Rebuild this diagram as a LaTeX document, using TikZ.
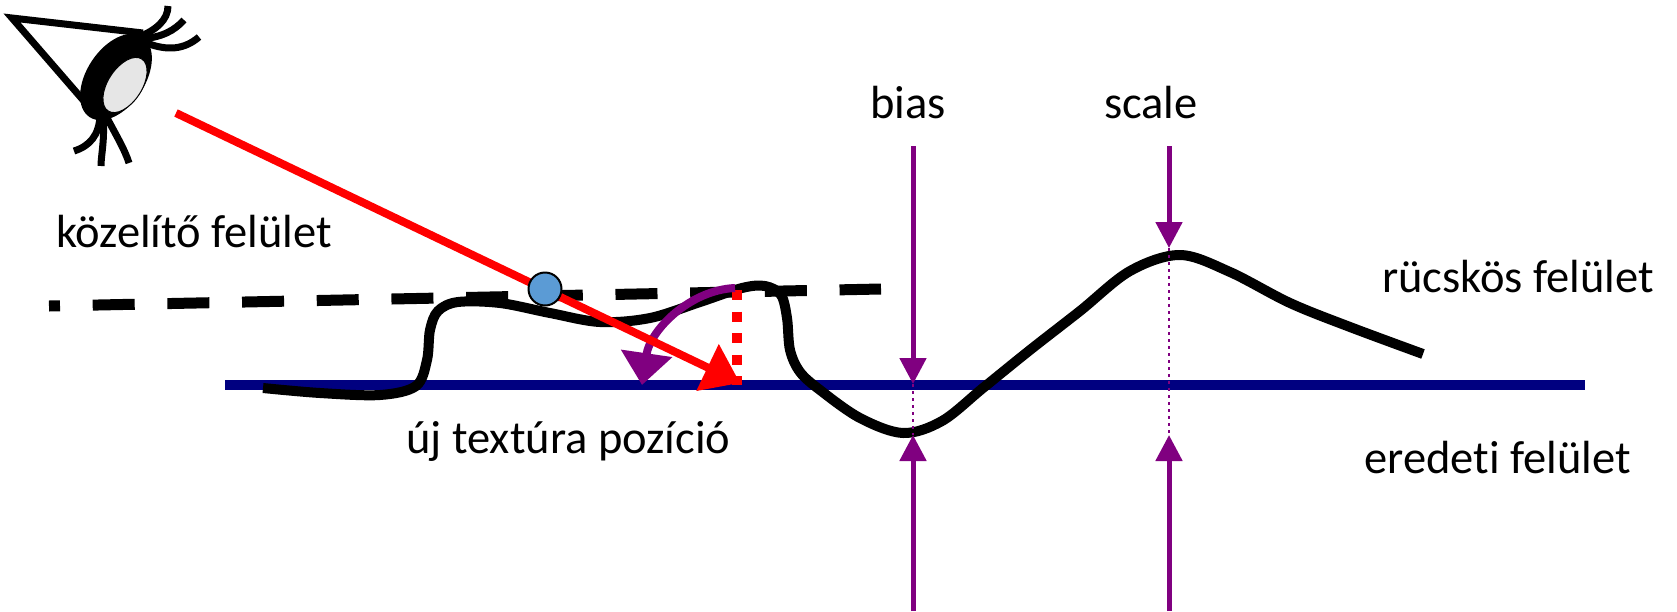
\documentclass[tikz,border=0pt]{standalone}
\usepackage{fontspec}
\setmainfont{Carlito}[Ligatures=NoCommon]
\usetikzlibrary{arrows.meta}
\definecolor{navyline}{RGB}{0,0,128}
\definecolor{violet}{RGB}{128,0,128}
\definecolor{dotblue}{RGB}{91,155,213}
\definecolor{eyegrey}{RGB}{230,230,230}
\begin{document}
\begin{tikzpicture}[x=1pt,y=-1pt,
  lbl/.style={inner sep=0pt, anchor=base west, font=\fontsize{46.5}{56}\selectfont},
  lash/.style={line width=7pt, line cap=butt},
  meas/.style={violet, line width=5pt, -{Triangle[length=26pt,width=26pt]}},
  guide/.style={violet, line width=2.5pt, dash pattern=on 2.5pt off 4.5pt}]
\useasboundingbox (0,0) rectangle (1677,611);

% viewer's eye
\draw[line width=7pt, line join=miter] (90,108) -- (12,18) -- (143,33);
\fill[shift={(116,77)}, rotate=56.5] (0,0) ellipse [x radius=48, y radius=29];
\draw[fill=eyegrey, line width=1pt, shift={(125,85)}, rotate=57] (0,0) ellipse [x radius=31, y radius=17];
\draw[lash] (139,37) .. controls (156,30) and (168,20) .. (168,6);
\draw[lash] (142,39) .. controls (162,37) and (174,31) .. (184,20);
\draw[lash] (144,42) .. controls (168,52) and (185,49) .. (199,37);
\draw[lash] (100,116) .. controls (99,135) and (90,146) .. (74,151);
\draw[lash] (103,116) .. controls (105,140) and (101,155) .. (101,166);
\draw[lash] (106,116) .. controls (116,135) and (125,150) .. (129,163);

% original (flat) surface
\coordinate (flatL) at (225,385);
\coordinate (flatR) at (1585,385);
\draw[navyline, line width=10pt] (flatL) -- (flatR);

% approximating surface
\coordinate (apL) at (49,306);
\coordinate (apR) at (881,289);
\draw[line width=11pt, dash pattern=on 42pt off 32.7pt, dash phase=31pt] (apL) -- (apR);

% bumpy surface
\draw[line width=10pt, line join=round] plot[smooth, tension=0.55] coordinates {
  (263,388) (320,393) (380,395) (416,386) (427,360) (430,330) (438,311)
  (458,302) (500,303) (550,313) (600,322) (650,318) (700,302) (742,288)
  (765,286) (781,295) (787,318) (790,350) (800,372) (820,390) (860,418)
  (903,433) (942,421) (983,388) (1030,350) (1080,311) (1130,271) (1180,255)
  (1230,272) (1290,303) (1350,327) (1423,354)};

% bias and scale markers
\coordinate (biasTop) at (913,146);
\coordinate (biasRef) at (913,384);
\coordinate (biasLow) at (913,435);
\coordinate (biasBot) at (913,611);
\coordinate (scaleTop) at (1169,146);
\coordinate (scalePeak) at (1169,248);
\coordinate (scaleLow) at (1169,435);
\coordinate (scaleBot) at (1169,611);
\draw[guide] (biasRef) -- (biasLow);
\draw[guide] (scalePeak) -- (scaleLow);
\draw[meas] (biasTop) -- (biasRef);
\draw[meas] (biasBot) -- (biasLow);
\draw[meas] (scaleTop) -- (scalePeak);
\draw[meas] (scaleBot) -- (scaleLow);

% height lookup and corrected texture position
\coordinate (hit) at (737,290);
\coordinate (foot) at (737,385);
\draw[red, line width=10pt, dash pattern=on 10pt off 11.5pt] (hit) -- (foot);
\coordinate (arcS) at (735,288);
\coordinate (arcE) at (642,385);
\draw[violet, line width=8pt, -{Triangle[length=32pt,width=50pt]}]
  (arcS) .. controls (690,290) and (650,330) .. (arcE);
\coordinate (rayS) at (176,113);
\coordinate (rayE) at (740,383);
\draw[red, line width=8pt, -{Triangle[length=36pt,width=50pt]}] (rayS) -- (rayE);
\node[circle, draw=black, line width=2pt, fill=dotblue, minimum size=33pt, inner sep=0pt] (isect) at (545,289) {};

% labels
\node[lbl] (tApprox) at (56,247) {közelítő felület};
\node[lbl] (tNew) at (406,453) {új textúra pozíció};
\node[lbl] (tBumpy) at (1382,292) {rücskös felület};
\node[lbl] (tOrig) at (1364,473) {eredeti felület};
\node[lbl, anchor=base] (tBias) at (908,118) {bias};
\node[lbl, anchor=base] (tScale) at (1151,118) {scale};
\end{tikzpicture}
\end{document}
